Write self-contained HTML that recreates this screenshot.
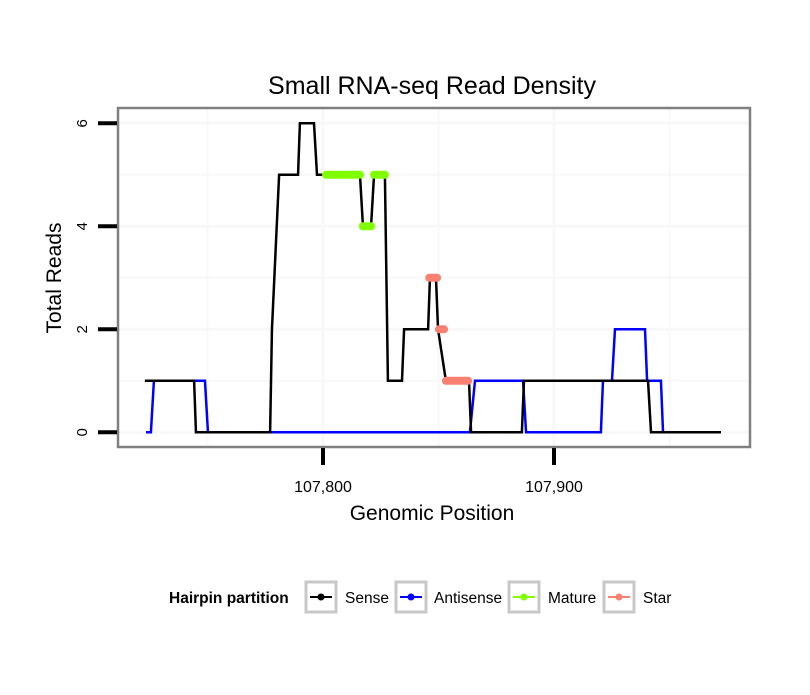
<!DOCTYPE html>
<html><head><meta charset="utf-8"><style>
body{margin:0;background:#fff;}
svg text{font-family:"Liberation Sans",sans-serif;}
</style></head><body>
<svg id="chart" width="810" height="690" xmlns="http://www.w3.org/2000/svg">
<rect width="810" height="690" fill="#fff"/>
<text x="432" y="94" text-anchor="middle" font-size="25">Small RNA-seq Read Density</text>
<g id="grid"></g>
<g id="series"></g>
<rect x="118" y="108" width="632" height="339" fill="none" stroke="#808080" stroke-width="2.5"/>
<g id="axes"></g>
<text x="432" y="520" text-anchor="middle" font-size="21">Genomic Position</text>
<text transform="translate(61,278) rotate(-90)" text-anchor="middle" font-size="21">Total Reads</text>
<g>
<text x="169" y="603" font-size="15.5" font-weight="bold">Hairpin partition</text>
<g><rect x="306" y="582" width="30" height="30" fill="#fff" stroke="#c8c8c8" stroke-width="3"/><line x1="310" y1="597" x2="332" y2="597" stroke="#000" stroke-width="2"/><circle cx="321" cy="597" r="3.5" fill="#000"/><text x="345" y="603" font-size="15.5">Sense</text></g>
<g><rect x="396" y="582" width="30" height="30" fill="#fff" stroke="#c8c8c8" stroke-width="3"/><line x1="400" y1="597" x2="422" y2="597" stroke="#0000ff" stroke-width="2"/><circle cx="411" cy="597" r="3.5" fill="#0000ff"/><text x="434" y="603" font-size="15.5">Antisense</text></g>
<g><rect x="509" y="582" width="30" height="30" fill="#fff" stroke="#c8c8c8" stroke-width="3"/><line x1="513" y1="597" x2="535" y2="597" stroke="#7fff00" stroke-width="2"/><circle cx="524" cy="597" r="3.5" fill="#7fff00"/><text x="548" y="603" font-size="15.5">Mature</text></g>
<g><rect x="604" y="582" width="30" height="30" fill="#fff" stroke="#c8c8c8" stroke-width="3"/><line x1="608" y1="597" x2="630" y2="597" stroke="#fa8072" stroke-width="2"/><circle cx="619" cy="597" r="3.5" fill="#fa8072"/><text x="643" y="603" font-size="15.5">Star</text></g>
</g>
</svg>
<script>
const senseX=[107722.9,107744.2,107745.0,107777.1,107777.9,107781.0,107789.2,107790.0,107796.1,107797.4,107816.0,107817.3,107820.8,107822.1,107826.8,107828.1,107834.2,107835.1,107845.5,107846.3,107848.9,107849.8,107853.2,107863.2,107864.1,107886.1,107887.0,107940.7,107942.0,107972.3];
const senseY=[1,1,0,0,2,5,5,6,6,5,5,4,4,5,5,1,1,2,2,3,3,2,1,1,0,0,1,1,0,0];
const antiX=[107723.4,107725.5,107726.8,107748.9,107750.2,107863.6,107865.8,107886.6,107887.9,107920.3,107921.2,107925.1,107926.4,107939.4,107940.3,107946.3,107947.2];
const antiY=[0,0,1,1,0,0,1,1,0,0,1,1,2,2,1,1,0];
const matureStart=[107801.3,107817.3,107822.1];
const matureEnd=[107816.0,107820.8,107826.8];
const matureY=[5,4,5];
const starStart=[107846.0,107850.2,107853.2];
const starEnd=[107849.4,107852.4,107862.8];
const starY=[3,2,1];
const xTicks=[107800,107900];
const xTickLabels=["107,800","107,900"];
const yTicks=[0,2,4,6];
const yTickLabels=["0","2","4","6"];

const NS="http://www.w3.org/2000/svg";
function sx(v){return 323+(v-107800)*2.31;}
function sy(v){return 432.3-v*51.5;}
function mk(tag,attrs,parent){const e=document.createElementNS(NS,tag);for(const k in attrs)e.setAttribute(k,attrs[k]);parent.appendChild(e);return e;}
const grid=document.getElementById('grid'),ser=document.getElementById('series'),axes=document.getElementById('axes');
for(let v=0;v<=6;v++){const l=mk('line',{x1:119,x2:749,y1:sy(v),y2:sy(v),stroke:'#f8f8f8','stroke-width':v%2?2:3},grid);

}
for(let v=107750;v<=107950;v+=50){const l=mk('line',{x1:sx(v),x2:sx(v),y1:109,y2:446,stroke:'#f8f8f8','stroke-width':v%100?2:3},grid);

}
function poly(xs,ys,color,name){const p=mk('polyline',{points:xs.map((x,i)=>sx(x)+','+sy(ys[i])).join(' '),fill:'none',stroke:color,'stroke-width':2.5,'stroke-linejoin':'miter'},ser);

}
poly(antiX,antiY,'#0000ff','antisense-line');
poly(senseX,senseY,'#000','sense-line');
function segs(s,e,y,color,name){for(let i=0;i<s.length;i++){const l=mk('line',{x1:sx(s[i]),x2:sx(e[i]),y1:sy(y[i]),y2:sy(y[i]),stroke:color,'stroke-width':8,'stroke-linecap':'round'},ser);

}}
segs(matureStart,matureEnd,matureY,'#7fff00','mature-segment');
segs(starStart,starEnd,starY,'#fa8072','star-segment');
yTicks.forEach((v,i)=>{const t=mk('line',{x1:98,x2:117,y1:sy(v),y2:sy(v),stroke:'#000','stroke-width':4},axes);


const tx=mk('text',{transform:'translate(87,'+sy(v)+') rotate(-90)','text-anchor':'middle','font-size':15},axes);tx.textContent=yTickLabels[i];

});
xTicks.forEach((v,i)=>{const t=mk('line',{x1:sx(v),x2:sx(v),y1:448,y2:465,stroke:'#000','stroke-width':4},axes);


const tx=mk('text',{x:sx(v),y:492,'text-anchor':'middle','font-size':16},axes);tx.textContent=xTickLabels[i];

});
</script>
</body></html>
